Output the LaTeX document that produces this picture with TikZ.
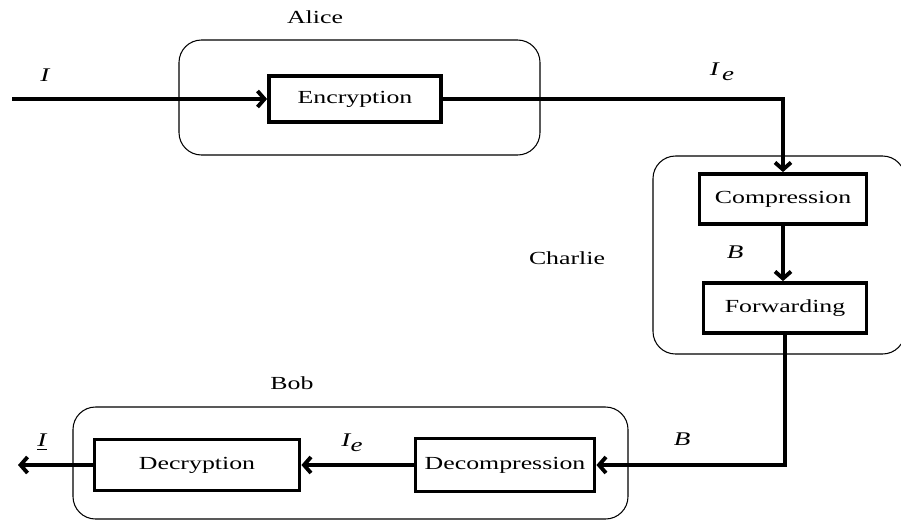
\documentclass[tikz,border=0pt]{standalone}
\usepackage{fontspec}
\setmainfont{Liberation Serif}[FakeStretch=1.4]
\usetikzlibrary{arrows.meta,calc,positioning}
\tikzset{>={Straight Barb[length=1.4mm,width=3.2mm]},
  every node/.style={font=\fontsize{10.5}{12}\selectfont},
  party/.style={draw,line width=.6pt,rounded corners=.45cm},
  stage/.style={draw,line width=2.2pt,inner sep=0pt},
  flow/.style={line width=2.2pt},
  partyname/.style={inner sep=1pt},
  symbol/.style={inner sep=1pt,font=\fontsize{11}{12}\selectfont\itshape}}

\begin{document}
\begin{tikzpicture}[x=.02cm,y=-.02cm]
\useasboundingbox (0,0) rectangle (901,521);
% the three parties, drawn as rounded frames
\draw[party] (179,40) rectangle (540,155);
\draw[party] (653,156) rectangle (905,354);
\draw[party] (73,407) rectangle (628,519);
\node[partyname] (alice) at (315,17) {Alice};
\node[partyname] (charlie) at (567,258) {Charlie};
\node[partyname] (bob) at (292,383) {Bob};
% processing stages
\node[stage,minimum width=3.44cm,minimum height=.92cm] (enc) at (355,99) {Encryption};
\node[stage,minimum width=3.34cm,minimum height=1cm] (comp) at (783,199) {Compression};
\node[stage,minimum width=3.26cm,minimum height=1cm] (fwd) at (785,308) {Forwarding};
\node[stage,minimum width=3.58cm,minimum height=1.06cm] (decomp) at (505,465) {Decompression};
\node[stage,minimum width=4.1cm,minimum height=1.02cm] (decr) at (197,465) {Decryption};
\coordinate (src) at (12,99);
\coordinate (sink) at (18,465);
% data path
\draw[flow,->] (src)--(enc.west);
\draw[flow,->] (enc.east) -| (comp.north);
\draw[flow,->] (comp.south)--(comp.south |- fwd.north);
\draw[flow,->] (fwd.south) |- (decomp.east);
\draw[flow,->] (decomp.west)--(decr.east);
\draw[flow,->] (decr.west)--(sink);
\node[symbol] (plain) at (45,75) {I};
\node[symbol] (cipher) at (722,72) {I\,\raisebox{-.55ex}{e}};
\node[symbol] (bits) at (735,252) {B};
\node[symbol] (bitsin) at (682,439) {B};
\node[symbol] (cipherout) at (352,443) {I\raisebox{-.6ex}{e}};
\node[symbol] (plainout) at (42,442) {\underline{I}};
\end{tikzpicture}
\end{document}
